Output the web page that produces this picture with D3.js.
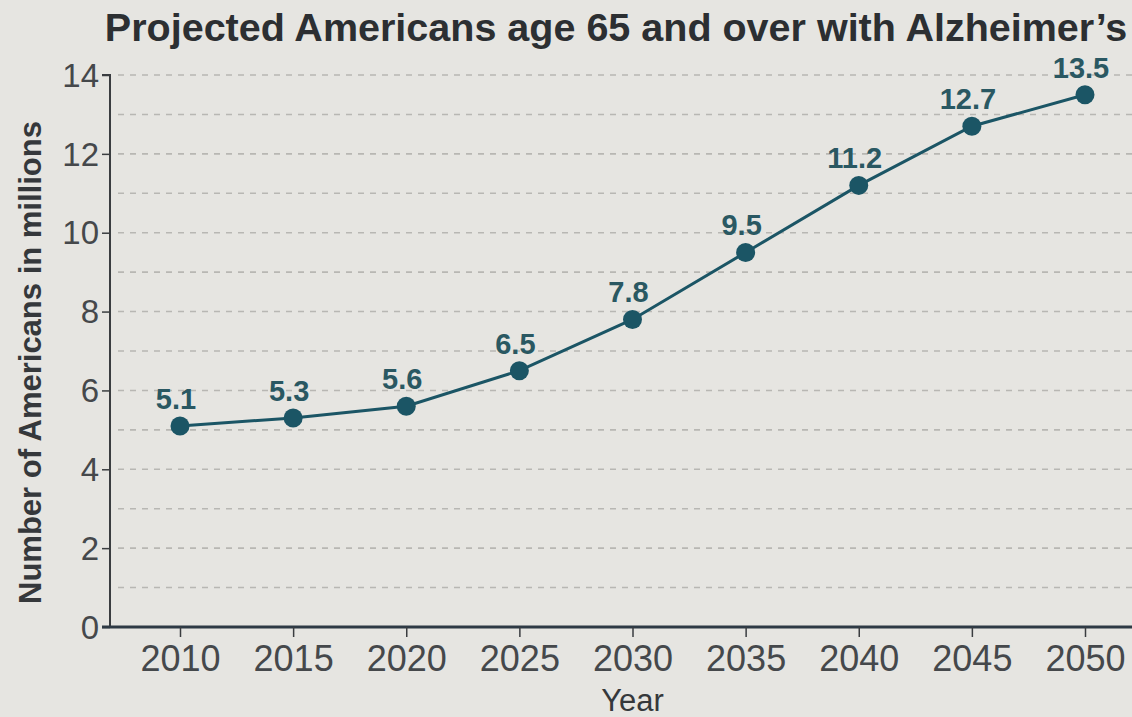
<!DOCTYPE html>
<html>
<head>
<meta charset="utf-8">
<script src="https://cdn.jsdelivr.net/npm/d3@7"></script>
<style>
  html, body { margin: 0; padding: 0; background: #e6e5e1; }
  svg { display: block; }
</style>
</head>
<body>
<svg id="chart" width="1132" height="717"></svg>
<script>
// Projected number of Americans age 65+ with Alzheimer's (millions)
const years = [2010, 2015, 2020, 2025, 2030, 2035, 2040, 2045, 2050];
const values = [5.1, 5.3, 5.6, 6.5, 7.8, 9.5, 11.2, 12.7, 13.5];
const yTicks = [0, 2, 4, 6, 8, 10, 12, 14];
const gridValues = d3.range(1, 15, 1);

const W = 1132, H = 717;
const axisX = 110;

const svg = d3.select("#chart");
svg.append("rect").attr("width", W).attr("height", H).attr("fill", "#e6e5e1");

const x = d3.scaleLinear().domain([2010, 2050]).range([180, 1085]);
const y = d3.scaleLinear().domain([0, 14]).range([627, 75]);

const ink = "#3a3d40";
const teal = "#1b5565";
const labelTeal = "#2a5862";
const sans = "'Liberation Sans', Arial, sans-serif";

// dashed gridlines, one per unit
svg.append("g").selectAll("line")
  .data(gridValues)
  .join("line")
  .attr("x1", axisX + 8).attr("x2", W)
  .attr("y1", d => y(d)).attr("y2", d => y(d))
  .attr("stroke", "#b8b7b3")
  .attr("stroke-width", 1.6)
  .attr("stroke-dasharray", "6,6");

// y axis
const yAxis = d3.axisLeft(y).tickValues(yTicks).tickSize(8).tickPadding(3);
const gy = svg.append("g").attr("transform", `translate(${axisX},0)`).call(yAxis);
gy.select(".domain").attr("stroke", ink).attr("stroke-width", 2)
  .attr("d", `M-8,${y(14)}H0V${y(0)}`);
gy.selectAll(".tick line").attr("stroke", ink).attr("stroke-width", 1.5);
gy.selectAll(".tick text")
  .attr("fill", "#45484b")
  .attr("dy", "0.34em")
  .style("font-family", sans)
  .style("font-size", "33px");

// x axis
const xAxis = d3.axisBottom(x).tickValues(years).tickFormat(d3.format("d")).tickSize(10).tickPadding(8);
const gx = svg.append("g").attr("transform", `translate(0,${y(0)})`).call(xAxis);
gx.select(".domain").attr("stroke", "#2e3a45").attr("stroke-width", 3)
  .attr("d", `M${axisX - 8},0H${W}`);
gx.selectAll(".tick line").attr("stroke", ink).attr("stroke-width", 1.5);
gx.selectAll(".tick text")
  .attr("fill", "#45484b")
  .style("font-family", sans)
  .style("font-size", "36px");

// axis titles
svg.append("text")
  .attr("x", x(2030)).attr("y", 711)
  .attr("text-anchor", "middle")
  .attr("fill", "#35383b")
  .style("font-family", sans)
  .style("font-size", "31px")
  .text("Year");

svg.append("text")
  .attr("transform", `translate(41,${(115 + 610) / 2}) rotate(-90)`)
  .attr("text-anchor", "middle")
  .attr("fill", "#35383b")
  .style("font-family", sans)
  .style("font-size", "31px")
  .style("font-weight", "bold")
  .text("Number of Americans in millions");

// title
svg.append("text")
  .attr("x", 616).attr("y", 41)
  .attr("text-anchor", "middle")
  .attr("fill", "#2c2f32")
  .style("font-family", sans)
  .style("font-size", "39.5px")
  .style("font-weight", "bold")
  .text("Projected Americans age 65 and over with Alzheimer\u2019s");

// series line
const pts = years.map((yr, i) => ({ yr, v: values[i] }));
svg.append("path")
  .datum(pts)
  .attr("fill", "none")
  .attr("stroke", teal)
  .attr("stroke-width", 3)
  .attr("d", d3.line().x(d => x(d.yr)).y(d => y(d.v)));

svg.append("g").selectAll("circle")
  .data(pts)
  .join("circle")
  .attr("cx", d => x(d.yr)).attr("cy", d => y(d.v))
  .attr("r", 9.5)
  .attr("fill", teal);

svg.append("g").selectAll("text")
  .data(pts)
  .join("text")
  .attr("x", d => x(d.yr) - 4).attr("y", d => y(d.v) - 17)
  .attr("text-anchor", "middle")
  .attr("fill", labelTeal)
  .style("font-family", sans)
  .style("font-size", "29px")
  .style("font-weight", "bold")
  .text(d => d3.format(".1f")(d.v));
</script>
</body>
</html>
